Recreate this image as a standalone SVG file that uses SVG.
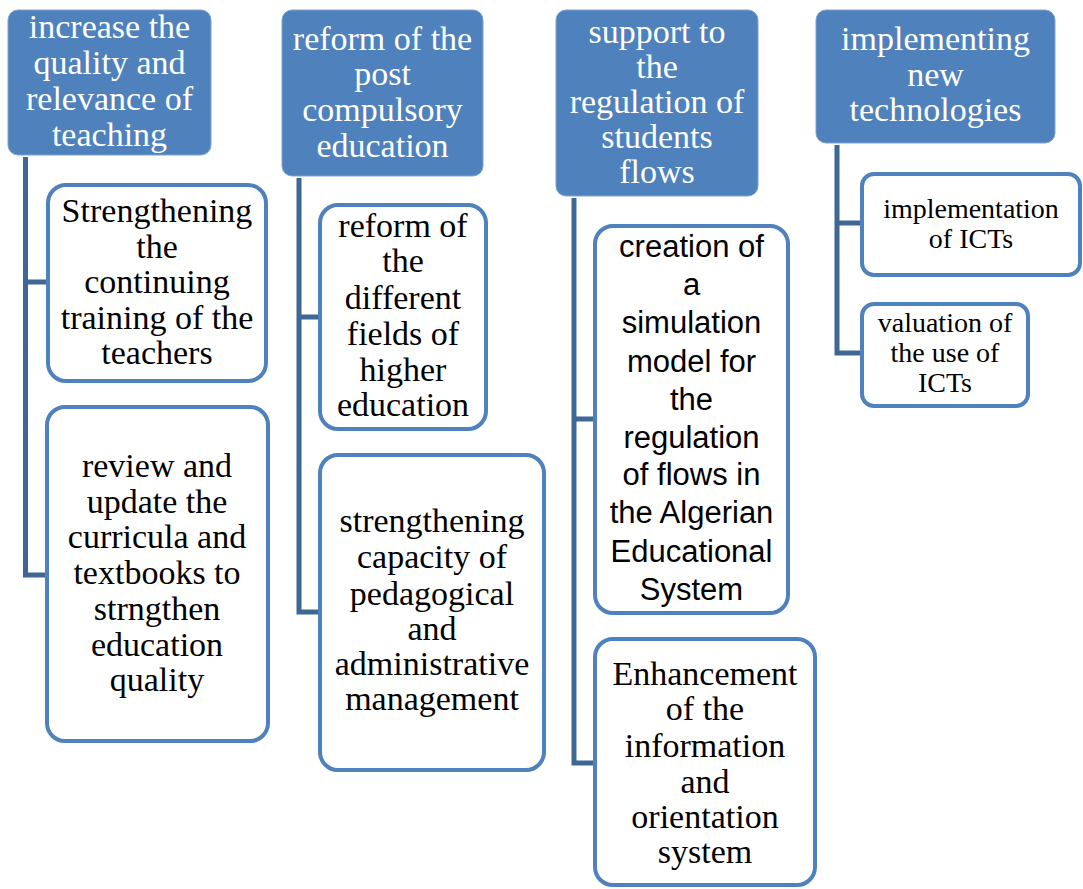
<svg xmlns="http://www.w3.org/2000/svg" width="1083" height="889" viewBox="0 0 1083 889">
<style>
.hdr{fill:#4F81BD;stroke:#7FA3D0;stroke-width:1}
.box{fill:#FFFFFF;stroke:#4F81BD;stroke-width:4}
.conn{fill:none;stroke:#3F6796;stroke-width:5;stroke-linejoin:miter}
.ht{font-family:"Liberation Serif",serif;font-size:34px;fill:#FFFFFF;text-anchor:middle}
.ct{font-family:"Liberation Serif",serif;font-size:34px;fill:#000000;text-anchor:middle}
.cs{font-family:"Liberation Sans",sans-serif;font-size:31px;fill:#000000;text-anchor:middle}
.cm{font-family:"Liberation Serif",serif;font-size:28px;fill:#000000;text-anchor:middle}
</style>
<rect width="1083" height="889" fill="#FFFFFF"/>
<g id="connectors">
<path class="conn" d="M25.5,157 V575 H47 M25.5,282 H48"/>
<path class="conn" d="M299,178 V612 H320 M299,317 H320"/>
<path class="conn" d="M574,198 V763 H595 M574,419 H595"/>
<path class="conn" d="M837,145 V353 H862 M837,223 H862"/>
</g>
<g id="h1">
<rect class="hdr" x="8" y="10" width="203" height="145" rx="10"/>
<text class="ht" x="109.5"><tspan x="109.5" y="38">increase the</tspan><tspan x="109.5" y="74">quality and</tspan><tspan x="109.5" y="110">relevance of</tspan><tspan x="109.5" y="146">teaching</tspan></text>
</g>
<g id="c1a">
<rect class="box" x="48" y="185" width="218" height="196" rx="18"/>
<text class="ct"><tspan x="157" y="222">Strengthening</tspan><tspan x="157" y="258">the</tspan><tspan x="157" y="293">continuing</tspan><tspan x="157" y="329">training of the</tspan><tspan x="157" y="364">teachers</tspan></text>
</g>
<g id="c1b">
<rect class="box" x="47" y="407" width="221" height="334" rx="18"/>
<text class="ct"><tspan x="157" y="477">review and</tspan><tspan x="157" y="513">update the</tspan><tspan x="157" y="548">curricula and</tspan><tspan x="157" y="584">textbooks to</tspan><tspan x="157" y="620">strngthen</tspan><tspan x="157" y="656">education</tspan><tspan x="157" y="691">quality</tspan></text>
</g>
<g id="h2">
<rect class="hdr" x="282" y="10" width="201" height="166" rx="10"/>
<text class="ht"><tspan x="382.5" y="50">reform of the</tspan><tspan x="382.5" y="85">post</tspan><tspan x="382.5" y="121">compulsory</tspan><tspan x="382.5" y="157">education</tspan></text>
</g>
<g id="c2a">
<rect class="box" x="320" y="205" width="166" height="224" rx="18"/>
<text class="ct"><tspan x="403" y="237">reform of</tspan><tspan x="403" y="272">the</tspan><tspan x="403" y="309">different</tspan><tspan x="403" y="345">fields of</tspan><tspan x="403" y="381">higher</tspan><tspan x="403" y="416">education</tspan></text>
</g>
<g id="c2b">
<rect class="box" x="320" y="455" width="224" height="315" rx="18"/>
<text class="ct"><tspan x="432" y="532">strengthening</tspan><tspan x="432" y="568">capacity of</tspan><tspan x="432" y="605">pedagogical</tspan><tspan x="432" y="640">and</tspan><tspan x="432" y="675">administrative</tspan><tspan x="432" y="710">management</tspan></text>
</g>
<g id="h3">
<rect class="hdr" x="556" y="10" width="202" height="186" rx="10"/>
<text class="ht"><tspan x="657" y="43">support to</tspan><tspan x="657" y="78">the</tspan><tspan x="657" y="113">regulation of</tspan><tspan x="657" y="148">students</tspan><tspan x="657" y="183">flows</tspan></text>
</g>
<g id="c3a">
<rect class="box" x="595" y="226" width="193" height="387" rx="18"/>
<text class="cs"><tspan x="691.5" y="257">creation of</tspan><tspan x="691.5" y="295">a</tspan><tspan x="691.5" y="333">simulation</tspan><tspan x="691.5" y="372">model for</tspan><tspan x="691.5" y="410">the</tspan><tspan x="691.5" y="448">regulation</tspan><tspan x="691.5" y="485">of flows in</tspan><tspan x="691.5" y="523">the Algerian</tspan><tspan x="691.5" y="562">Educational</tspan><tspan x="691.5" y="600">System</tspan></text>
</g>
<g id="c3b">
<rect class="box" x="595" y="639" width="220" height="246" rx="18"/>
<text class="ct"><tspan x="705" y="685">Enhancement</tspan><tspan x="705" y="720">of the</tspan><tspan x="705" y="757">information</tspan><tspan x="705" y="793">and</tspan><tspan x="705" y="828">orientation</tspan><tspan x="705" y="863">system</tspan></text>
</g>
<g id="h4">
<rect class="hdr" x="816" y="10" width="239" height="133" rx="10"/>
<text class="ht"><tspan x="935.5" y="50">implementing</tspan><tspan x="935.5" y="86">new</tspan><tspan x="935.5" y="121">technologies</tspan></text>
</g>
<g id="c4a">
<rect class="box" x="862" y="174" width="218" height="101" rx="12"/>
<text class="cm"><tspan x="971" y="218">implementation</tspan><tspan x="971" y="248">of ICTs</tspan></text>
</g>
<g id="c4b">
<rect class="box" x="862" y="304" width="166" height="102" rx="12"/>
<text class="cm"><tspan x="945" y="332">valuation of</tspan><tspan x="945" y="362">the use of</tspan><tspan x="945" y="392">ICTs</tspan></text>
</g>
</svg>
